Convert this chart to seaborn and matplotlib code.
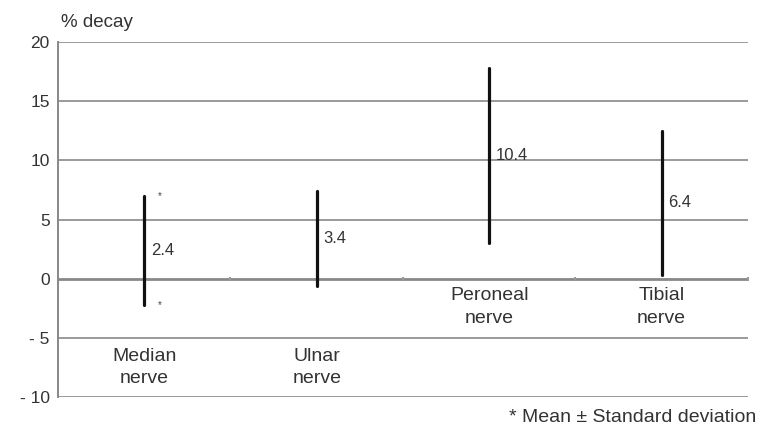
import pandas as pd
import numpy as np
import seaborn as sns
import matplotlib.pyplot as plt

# values
nerves = ['Median', 'Ulnar', 'Peroneal', 'Tibial']
means = [2.4, 3.4, 10.4, 6.4]
sds = [4.6, 4.0, 7.4, 6.1]
mean_labels = ['2.4', '3.4', '10.4', '6.4']
cat_labels = ['Median\nnerve', 'Ulnar\nnerve', 'Peroneal\nnerve', 'Tibial\nnerve']
label_y = [-7.5, -7.5, -2.4, -2.4]
yticks = [20, 15, 10, 5, 0, -5, -10]
ytick_labels = ['20', '15', '10', '5', '0', '- 5', '- 10']

# long table: lower and upper end of mean +/- sd per nerve
rows = []
for n, m, s in zip(nerves, means, sds):
    rows.append({'nerve': n, 'decay': m - s})
    rows.append({'nerve': n, 'decay': m + s})
df = pd.DataFrame(rows)

sns.set_theme(style="white")
plt.rcParams['font.family'] = ['Liberation Sans', 'DejaVu Sans']

fig = plt.figure(figsize=(7.59, 4.33), dpi=100)
ax = fig.add_axes([0.0764, 0.083, 0.909, 0.820])

sns.pointplot(data=df, x='nerve', y='decay', order=nerves, estimator='mean',
              errorbar=('pi', 100), linestyles='none', markers='', color='black',
              err_kws={'linewidth': 2.3, 'color': '#111111'}, ax=ax)

ax.set_xlim(-0.5, 3.5)
ax.set_ylim(-10, 20)
ax.set_yticks(yticks)
ax.set_yticklabels(ytick_labels, fontsize=12.5, color='#333333')
ax.set_xticks([])
ax.set_xlabel('')
ax.set_ylabel('')
ax.tick_params(axis='y', length=0, pad=6)

for yv in yticks:
    ax.axhline(yv, color='#9a9a9a' if yv != 0 else '#888888',
               lw=1.4 if yv != 0 else 2.0, zorder=0)

for sp in ['top', 'right', 'bottom']:
    ax.spines[sp].set_visible(False)
ax.spines['left'].set_color('#888888')
ax.spines['left'].set_linewidth(1.4)

# mean labels to the right of each bar
for i, (m, lab) in enumerate(zip(means, mean_labels)):
    ax.text(i + 0.04, m, lab, ha='left', va='center', fontsize=12, color='#333333')

# category labels
for i, (lab, ly) in enumerate(zip(cat_labels, label_y)):
    ax.text(i, ly, lab, ha='center', va='center', fontsize=14, color='#333333',
            linespacing=1.45)

# small asterisks beside the median bar
ax.text(0.09, means[0] + sds[0], '*', ha='center', va='center', fontsize=7, color='#444444')
ax.text(0.09, means[0] - sds[0], '*', ha='center', va='center', fontsize=7, color='#444444')

# faint tick marks on the zero line between categories
ax.scatter([0.5, 1.5, 2.5, 3.5], [0, 0, 0, 0], marker='|', s=12, color='#999999', zorder=1)

fig.text(0.081, 0.948, '% decay', ha='left', va='center', fontsize=13.5, color='#333333')
fig.text(0.997, 0.035, '* Mean \u00b1 Standard deviation', ha='right', va='center',
         fontsize=14, color='#333333')

fig.savefig('out.png', dpi=100)
